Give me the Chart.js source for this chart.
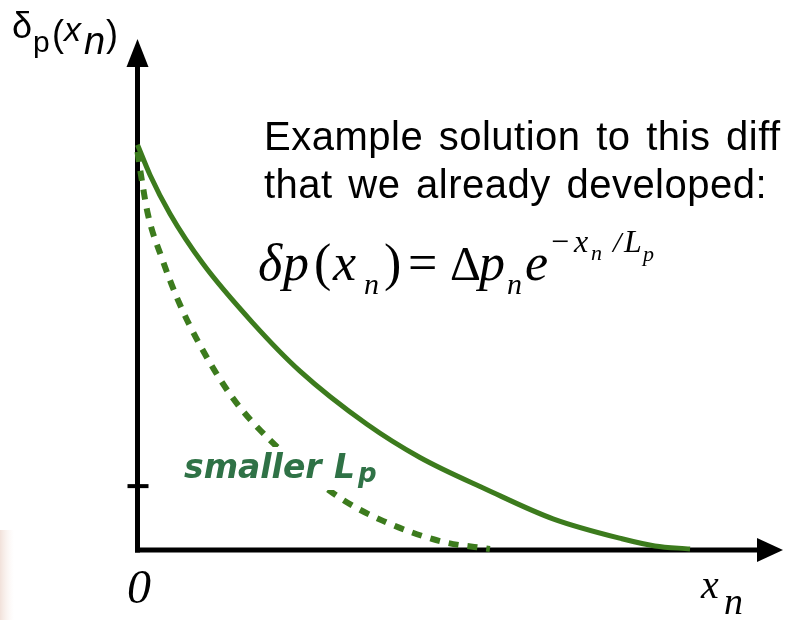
<!DOCTYPE html>
<html>
<head>
<meta charset="utf-8">
<script src="https://cdn.jsdelivr.net/npm/chart.js@4/dist/chart.umd.min.js"></script>
<style>
  html, body { margin: 0; padding: 0; background: #fff; }
  canvas { display: block; }
</style>
</head>
<body>
<canvas id="decay" width="785" height="620"></canvas>
<script>
'use strict';

// excess hole density along x_n, normal diffusion length
var solidX = [0, 1.94, 5.03, 10.15, 17.89, 25.17, 35.55, 43.76, 54.14, 64.37, 75.05, 80.15, 85.6];
var solidY = [79.3, 73.4, 65.8, 56.0, 44.4, 35.0, 24.6, 18.1, 11.8, 6.1, 2.2, 0.8, 0.2];

// same profile with a smaller diffusion length
var dashedX = [0, 0.54, 1.63, 3.87, 6.27, 9.68, 14.79, 20.53, 30.9, 38.03, 47.33, 54.6];
var dashedY = [77.9, 73.4, 65.6, 56.8, 48.9, 40.1, 29.7, 21.5, 10.6, 5.7, 1.6, 0.2];

// single mark on the vertical axis
var yTicks = [12.5];

var GREEN = '#3c7b1d';
var TEXT_GREEN = '#2f7246';

function toPoints(xs, ys) {
	var pts = [];
	for (var i = 0; i < xs.length; i++) {
		pts.push({ x: xs[i], y: ys[i] });
	}
	return pts;
}

// draws a list of glyph runs at fixed spots
function drawRuns(ctx, runs) {
	runs.forEach(function (r) {
		ctx.font = r.font;
		ctx.fillStyle = r.color || '#000';
		ctx.fillText(r.t, r.x, r.y);
	});
}

var axesPlugin = {
	id: 'axesWithArrows',
	beforeDraw: function (chart) {
		var ctx = chart.ctx;
		ctx.save();
		ctx.fillStyle = '#fff';
		ctx.fillRect(0, 0, chart.width, chart.height);
		// faint strip at the left edge of the slide
		var g = ctx.createLinearGradient(0, 0, 14, 0);
		g.addColorStop(0, 'rgba(240,222,214,0.9)');
		g.addColorStop(1, 'rgba(250,240,236,0)');
		ctx.fillStyle = g;
		ctx.fillRect(0, 530, 14, 90);
		ctx.restore();
	},
	beforeDatasetsDraw: function (chart) {
		var ctx = chart.ctx;
		var xs = chart.scales.x, ys = chart.scales.y;
		var x0 = xs.getPixelForValue(0);
		var y0 = ys.getPixelForValue(0);
		var xEnd = xs.getPixelForValue(xs.max);
		var yEnd = ys.getPixelForValue(ys.max);

		ctx.save();
		ctx.strokeStyle = '#000';
		ctx.fillStyle = '#000';
		ctx.lineWidth = 5;
		ctx.lineCap = 'butt';

		// vertical axis
		ctx.beginPath();
		ctx.moveTo(x0, y0 + 2.5);
		ctx.lineTo(x0, yEnd + 26);
		ctx.stroke();
		ctx.beginPath();
		ctx.moveTo(x0, yEnd);
		ctx.lineTo(x0 - 11, yEnd + 28);
		ctx.lineTo(x0 + 11, yEnd + 28);
		ctx.closePath();
		ctx.fill();

		// horizontal axis
		ctx.beginPath();
		ctx.moveTo(x0 - 2.5, y0);
		ctx.lineTo(xEnd - 24, y0);
		ctx.stroke();
		ctx.beginPath();
		ctx.moveTo(xEnd, y0);
		ctx.lineTo(xEnd - 26, y0 - 12);
		ctx.lineTo(xEnd - 26, y0 + 12);
		ctx.closePath();
		ctx.fill();

		// ticks on the vertical axis
		ctx.lineWidth = 4;
		yTicks.forEach(function (v) {
			var py = ys.getPixelForValue(v);
			ctx.beginPath();
			ctx.moveTo(x0 - 10, py);
			ctx.lineTo(x0 + 11, py);
			ctx.stroke();
		});
		ctx.restore();
	},
	afterDraw: function (chart) {
		var ctx = chart.ctx;
		ctx.save();
		ctx.textBaseline = 'alphabetic';
		var sans = '"Liberation Sans", Arial, sans-serif';
		var serif = '"Liberation Serif", "Times New Roman", serif';

		// axis titles
		drawRuns(ctx, [
			{ t: 'δ', x: 12, y: 38, font: '36px ' + sans },
			{ t: 'p', x: 33, y: 52, font: '30px ' + sans },
			{ t: '(', x: 52, y: 46, font: '36px ' + sans },
			{ t: 'x', x: 64, y: 41, font: 'italic 34px ' + sans },
			{ t: 'n', x: 84, y: 54, font: 'italic 38px ' + sans },
			{ t: ')', x: 106, y: 46, font: '36px ' + sans },
			{ t: '0', x: 127, y: 603, font: 'italic 48px ' + serif },
			{ t: 'x', x: 701, y: 598, font: 'italic 40px ' + serif },
			{ t: 'n', x: 724, y: 614, font: 'italic 38px ' + serif }
		]);

		// explanatory note
		ctx.font = '40px ' + sans;
		ctx.fillStyle = '#000';
		ctx.letterSpacing = '0.5px';
		ctx.wordSpacing = '4px';
		ctx.fillText('Example solution to this diff', 264, 150);
		ctx.fillText('that we already developed:', 264, 198);
		ctx.letterSpacing = '0px';
		ctx.wordSpacing = '0px';

		// δp(x_n) = Δp_n e^(-x_n / L_p)
		var f = serif;
		drawRuns(ctx, [
			{ t: 'δ', x: 258, y: 280, font: 'italic 52px ' + f },
			{ t: 'p', x: 283, y: 280, font: 'italic 52px ' + f },
			{ t: '(', x: 314, y: 280, font: '52px ' + f },
			{ t: 'x', x: 333, y: 280, font: 'italic 52px ' + f },
			{ t: 'n', x: 364, y: 294, font: 'italic 30px ' + f },
			{ t: ')', x: 384, y: 280, font: '52px ' + f },
			{ t: '=', x: 408, y: 280, font: '52px ' + f },
			{ t: 'Δ', x: 450, y: 280, font: '48px ' + f },
			{ t: 'p', x: 479, y: 280, font: 'italic 52px ' + f },
			{ t: 'n', x: 507, y: 294, font: 'italic 30px ' + f },
			{ t: 'e', x: 525, y: 280, font: 'italic 52px ' + f },
			{ t: '−', x: 551, y: 252, font: '32px ' + f },
			{ t: 'x', x: 574, y: 252, font: 'italic 32px ' + f },
			{ t: 'n', x: 591, y: 260, font: 'italic 22px ' + f },
			{ t: '/', x: 613, y: 252, font: 'italic 30px ' + f },
			{ t: 'L', x: 624, y: 252, font: 'italic 32px ' + f },
			{ t: 'p', x: 643, y: 261, font: 'italic 22px ' + f }
		]);

		// label for the dashed curve, on a white patch that hides the line behind it
		var lab = 'bold oblique 33px "DejaVu Sans", sans-serif';
		ctx.fillStyle = '#fff';
		ctx.fillRect(180, 447, 205, 43);
		drawRuns(ctx, [
			{ t: 'smaller', x: 184, y: 478, font: lab, color: TEXT_GREEN },
			{ t: 'L', x: 334, y: 478, font: lab, color: TEXT_GREEN },
			{ t: 'p', x: 358, y: 482, font: 'bold oblique 26px "DejaVu Sans", sans-serif', color: TEXT_GREEN }
		]);
		ctx.restore();
	}
};

new Chart(document.getElementById('decay').getContext('2d'), {
	type: 'scatter',
	data: {
		datasets: [
			{
				data: toPoints(solidX, solidY),
				showLine: true,
				borderColor: GREEN,
				borderWidth: 5,
				pointRadius: 0,
				cubicInterpolationMode: 'monotone',
				clip: false
			},
			{
				data: toPoints(dashedX, dashedY),
				showLine: true,
				borderColor: GREEN,
				borderWidth: 6,
				borderDash: [10, 9],
				pointRadius: 0,
				cubicInterpolationMode: 'monotone',
				clip: false
			}
		]
	},
	options: {
		responsive: false,
		animation: false,
		devicePixelRatio: 1,
		layout: { padding: { left: 137.5, right: 2, top: 39, bottom: 70 } },
		plugins: { legend: { display: false }, tooltip: { enabled: false } },
		scales: {
			x: { type: 'linear', min: 0, max: 100, display: false },
			y: { type: 'linear', min: 0, max: 100, display: false }
		}
	},
	plugins: [axesPlugin]
});
</script>
</body>
</html>
